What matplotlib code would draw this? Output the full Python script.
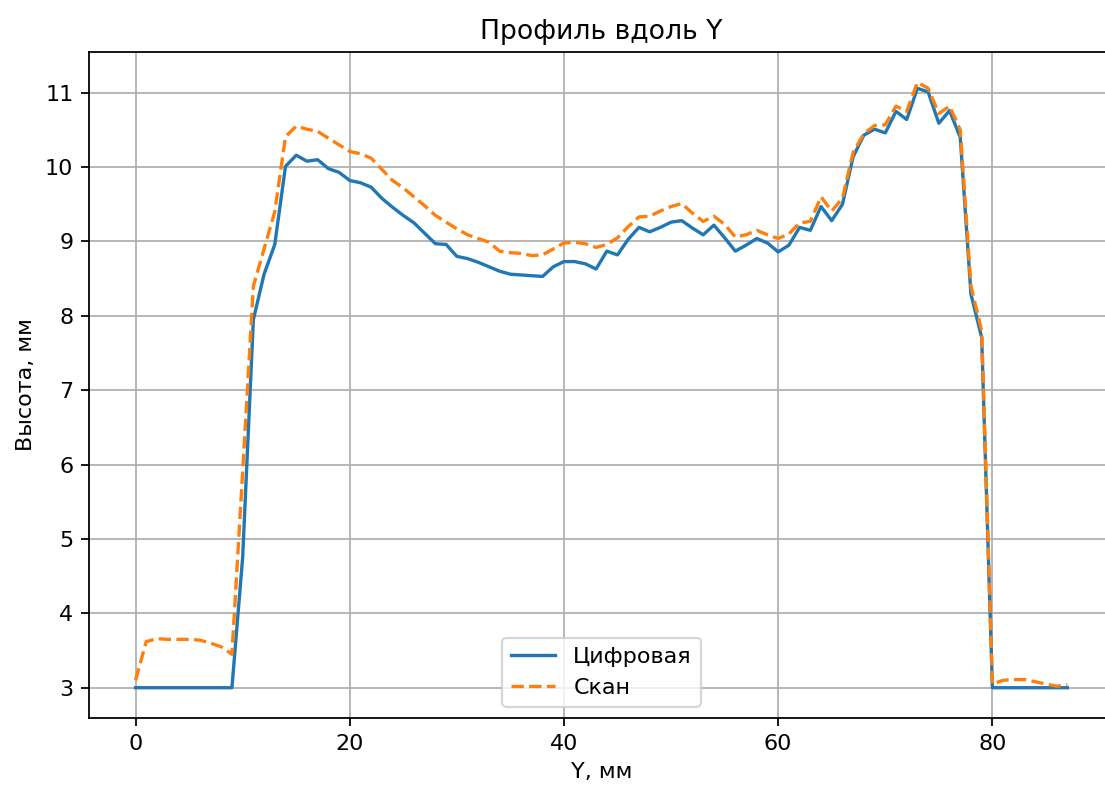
import numpy as np
import matplotlib.pyplot as plt

# Координата Y, мм
y_mm = np.arange(0, 88)

# Цифровая модель
digital = [3.0, 3.0, 3.0, 3.0, 3.0, 3.0, 3.0, 3.0, 3.0, 3.0,
           4.75, 7.95, 8.56, 8.96, 10.01, 10.16, 10.08, 10.1, 9.98, 9.93,
           9.82, 9.79, 9.73, 9.58, 9.46, 9.35, 9.25, 9.11, 8.97, 8.96,
           8.8, 8.77, 8.72, 8.66, 8.6, 8.56, 8.55, 8.54, 8.53, 8.66,
           8.73, 8.73, 8.7, 8.63, 8.87, 8.82, 9.03, 9.19, 9.13, 9.19,
           9.26, 9.28, 9.18, 9.09, 9.22, 9.05, 8.87, 8.95, 9.04, 8.98,
           8.86, 8.95, 9.19, 9.15, 9.47, 9.28, 9.5, 10.14, 10.43, 10.51,
           10.46, 10.75, 10.64, 11.06, 11.01, 10.59, 10.76, 10.4, 8.29, 7.71,
           3.0, 3.0, 3.0, 3.0, 3.0, 3.0, 3.0, 3.0]

# Скан
scan = [3.1, 3.62, 3.66, 3.65, 3.65, 3.65, 3.64, 3.6, 3.55, 3.45,
        5.9, 8.4, 8.9, 9.4, 10.41, 10.55, 10.51, 10.48, 10.39, 10.3,
        10.21, 10.18, 10.12, 9.97, 9.82, 9.72, 9.6, 9.48, 9.35, 9.26,
        9.17, 9.09, 9.04, 8.99, 8.87, 8.85, 8.84, 8.81, 8.82, 8.9,
        8.98, 8.99, 8.97, 8.92, 8.96, 9.05, 9.2, 9.33, 9.34, 9.41,
        9.47, 9.51, 9.38, 9.27, 9.34, 9.23, 9.06, 9.09, 9.15, 9.09,
        9.04, 9.1, 9.25, 9.27, 9.6, 9.41, 9.58, 10.2, 10.45, 10.56,
        10.57, 10.82, 10.75, 11.14, 11.06, 10.72, 10.82, 10.5, 8.4, 7.8,
        3.05, 3.1, 3.11, 3.11, 3.08, 3.05, 3.02, 3.04]

dpi = 160
fig = plt.figure(figsize=(1105 / dpi, 789 / dpi), dpi=dpi)
# правый край осей чуть за пределами картинки, как в исходнике
ax = fig.add_axes([0.0805, 0.09, 0.9276, 0.844])

ax.plot(y_mm, digital, label='Цифровая')
ax.plot(y_mm, scan, linestyle='--', label='Скан')

ax.set_title('Профиль вдоль Y')
ax.set_xlabel('Y, мм')
ax.set_ylabel('Высота, мм')
ax.set_xticks([0, 20, 40, 60, 80])
ax.set_yticks(range(3, 12))
ax.grid(True)
ax.legend(loc='lower center')

fig.savefig('out.png', dpi=dpi)
